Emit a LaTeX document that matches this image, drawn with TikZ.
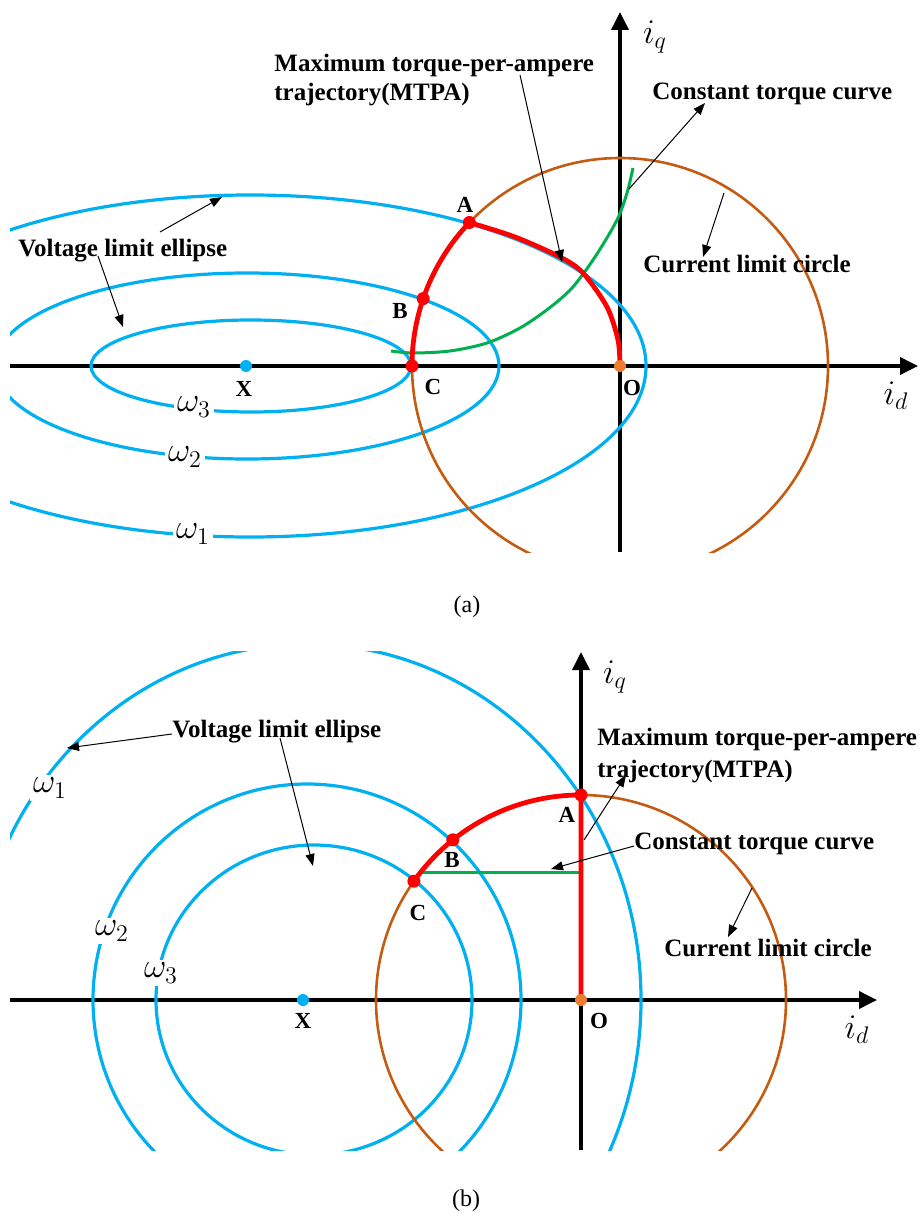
\documentclass[tikz,border=0pt]{standalone}
\usepackage{fontspec}
\setmainfont{Liberation Serif}
\usepackage{tikz}
\usetikzlibrary{arrows.meta}

\definecolor{voltblue}{RGB}{0,176,240}
\definecolor{currbrown}{RGB}{197,90,17}
\definecolor{mtpared}{RGB}{255,0,0}
\definecolor{torqgreen}{RGB}{0,176,80}
\definecolor{origorange}{RGB}{237,125,49}

\begin{document}
\begin{tikzpicture}[x=0.5pt, y=-0.5pt,
    axis_line/.style={line width=1.8pt, -{Triangle[length=9pt, width=8.5pt]}},
    volt_ellipse/.style={draw=voltblue, line width=1.6pt},
    current_circle/.style={draw=currbrown, line width=1.3pt},
    mtpa_curve/.style={draw=mtpared, line width=2.4pt},
    torque_curve/.style={draw=torqgreen, line width=1.5pt},
    note_arrow/.style={-{Triangle[length=6pt, width=4.5pt]}, line width=0.5pt},
    note_text/.style={font=\fontsize{12.5}{15}\selectfont\bfseries, inner sep=0pt, anchor=base west},
    point_label/.style={font=\fontsize{11.5}{14}\selectfont\bfseries, inner sep=0pt},
    omega_label/.style={font=\fontsize{17.28}{20}\selectfont, fill=white, inner sep=1.5pt},
    axis_label/.style={font=\fontsize{17.28}{20}\selectfont, inner sep=0pt},
    caption_text/.style={font=\fontsize{12}{14}\selectfont, inner sep=0pt},
    red_dot/.style={circle, fill=mtpared, minimum size=6.5pt, inner sep=0pt},
    blue_dot/.style={circle, fill=voltblue, minimum size=6pt, inner sep=0pt},
    orange_dot/.style={circle, fill=origorange, minimum size=6pt, inner sep=0pt}
]
\useasboundingbox (0,0) rectangle (920,1213);

% ---------- (a) ----------
\coordinate (Oa) at (620,366);
\coordinate (Xa) at (246,366);
\coordinate (Aa) at (469.4,222.5);
\coordinate (Ba) at (423.2,298.6);
\coordinate (Ca) at (412,366);

% Ejes
\coordinate (ida0) at (10,366);
\coordinate (ida1) at (918,366);
\coordinate (iqa0) at (620,552);
\coordinate (iqa1) at (620,12);
\draw[axis_line] (ida0) -- (ida1);
\draw[axis_line] (iqa0) -- (iqa1);

% Elipses y circulo
\begin{scope}
\clip (10,0) rectangle (920,552);
\draw[volt_ellipse] (250,366) ellipse [x radius=396, y radius=171];
\draw[volt_ellipse] (247,366) ellipse [x radius=252, y radius=93];
\draw[volt_ellipse] (251,366) ellipse [x radius=160, y radius=46];
\draw[current_circle] (Oa) circle [radius=208];
\end{scope}

% Curvas
\draw[torque_curve] plot[smooth] coordinates {(391,351) (413,353) (450,351) (487,343) (520,328) (548,309) (572,288) (595,257) (617,220) (627,193) (633,168)};
\draw[mtpa_curve] plot[smooth] coordinates {(469.4,222.5) (515,237) (560,257) (583,273) (607,307) (618,340) (620,366)};
\draw[mtpa_curve] (Ca) arc [start angle=180, end angle=223.6, radius=208];

% Puntos
\node[red_dot] (pAa) at (Aa) {};
\node[red_dot] (pBa) at (Ba) {};
\node[red_dot] (pCa) at (Ca) {};
\node[orange_dot] (pOa) at (Oa) {};
\node[blue_dot] (pXa) at (Xa) {};

\node[point_label] (lAa) at (465,205) {A};
\node[point_label] (lBa) at (400,311) {B};
\node[point_label] (lCa) at (433,387) {C};
\node[point_label] (lXa) at (244,389) {X};
\node[point_label] (lOa) at (632,388) {O};

\node[omega_label] (w1a) at (193,534) {$\omega_1$};
\node[omega_label] (w2a) at (185,457) {$\omega_2$};
\node[omega_label] (w3a) at (194,407) {$\omega_3$};
\node[axis_label] (iqa) at (655,37) {$i_q$};
\node[axis_label] (ida) at (896,396) {$i_d$};

% Textos y flechas
\node[note_text] (vlea) at (18,257) {Voltage limit ellipse};
\node[note_text] (mtpaa) at (274,72) {Maximum torque-per-ampere};
\node[note_text] (mtpaa2) at (274,101) {trajectory(MTPA)};
\node[note_text] (ctca) at (652,100) {Constant torque curve};
\node[note_text] (clca) at (643,273) {Current limit circle};

\coordinate (vla1s) at (160,232);
\coordinate (vla1e) at (222,197);
\coordinate (vla2s) at (98,256);
\coordinate (vla2e) at (123,327);
\coordinate (mtpas) at (520,75);
\coordinate (mtpae) at (562,262);
\coordinate (ctcs) at (629,189);
\coordinate (ctce) at (705,103);
\coordinate (clcs) at (724,193);
\coordinate (clce) at (703,257);
\draw[note_arrow] (vla1s) -- (vla1e);
\draw[note_arrow] (vla2s) -- (vla2e);
\draw[note_arrow] (mtpas) -- (mtpae);
\draw[note_arrow] (ctcs) -- (ctce);
\draw[note_arrow] (clcs) -- (clce);

\node[caption_text] (capa) at (467,607) {(a)};

% ---------- (b) ----------
\coordinate (Ob) at (581,1000);
\coordinate (Xb) at (303,1000);
\coordinate (Ab) at (581,795);
\coordinate (Bb) at (452.8,839.8);
\coordinate (Cb) at (413.9,881.2);

% Ejes
\coordinate (idb0) at (10,1000);
\coordinate (idb1) at (877,1000);
\coordinate (iqb0) at (581,1150);
\coordinate (iqb1) at (581,652);
\draw[axis_line] (idb0) -- (idb1);
\draw[axis_line] (iqb0) -- (iqb1);

% Elipses y circulo
\begin{scope}
\clip (10,651) rectangle (920,1150);
\draw[volt_ellipse] (307,1000) ellipse [x radius=334, y radius=356];
\draw[volt_ellipse] (307,1000) ellipse [x radius=214, y radius=216];
\draw[volt_ellipse] (314,1000) ellipse [x radius=158, y radius=155];
\draw[current_circle] (Ob) circle [radius=205];
\end{scope}

% Curvas
\coordinate (Gb0) at (420.8,872);
\coordinate (Gb1) at (581,872);
\draw[torque_curve] (Gb0) -- (Gb1);
\draw[mtpa_curve] (Cb) arc [start angle=215.4, end angle=270, radius=205] -- (Ob);

% Puntos
\node[red_dot] (pAb) at (Ab) {};
\node[red_dot] (pBb) at (Bb) {};
\node[red_dot] (pCb) at (Cb) {};
\node[orange_dot] (pOb) at (Ob) {};
\node[blue_dot] (pXb) at (Xb) {};

\node[point_label] (lAb) at (567,815) {A};
\node[point_label] (lBb) at (452,860) {B};
\node[point_label] (lCb) at (418,913) {C};
\node[point_label] (lXb) at (303,1021) {X};
\node[point_label] (lOb) at (599,1021) {O};

\node[omega_label] (w1b) at (50,788) {$\omega_1$};
\node[omega_label] (w2b) at (112,931) {$\omega_2$};
\node[omega_label] (w3b) at (161,973) {$\omega_3$};
\node[axis_label] (iqb) at (615,677) {$i_q$};
\node[axis_label] (idb) at (857,1030) {$i_d$};

% Textos y flechas
\node[note_text] (vleb) at (172,737) {Voltage limit ellipse};
\node[note_text] (mtpab) at (597,745) {Maximum torque-per-ampere};
\node[note_text] (mtpab2) at (597,777) {trajectory(MTPA)};
\node[note_text] (ctcb) at (634,849) {Constant torque curve};
\node[note_text] (clcb) at (664,956) {Current limit circle};

\coordinate (vlb1s) at (172,734);
\coordinate (vlb1e) at (67,748);
\coordinate (vlb2s) at (280,738);
\coordinate (vlb2e) at (313,866);
\coordinate (mtpbs) at (584,840);
\coordinate (mtpbe) at (626,775);
\coordinate (ctbs) at (634,846);
\coordinate (ctbe) at (551,869);
\coordinate (clbs) at (752,888);
\coordinate (clbe) at (728,937);
\draw[note_arrow] (vlb1s) -- (vlb1e);
\draw[note_arrow] (vlb2s) -- (vlb2e);
\draw[note_arrow] (mtpbs) -- (mtpbe);
\draw[note_arrow] (ctbs) -- (ctbe);
\draw[note_arrow] (clbs) -- (clbe);

\node[caption_text] (capb) at (466,1201) {(b)};
\end{tikzpicture}
\end{document}
